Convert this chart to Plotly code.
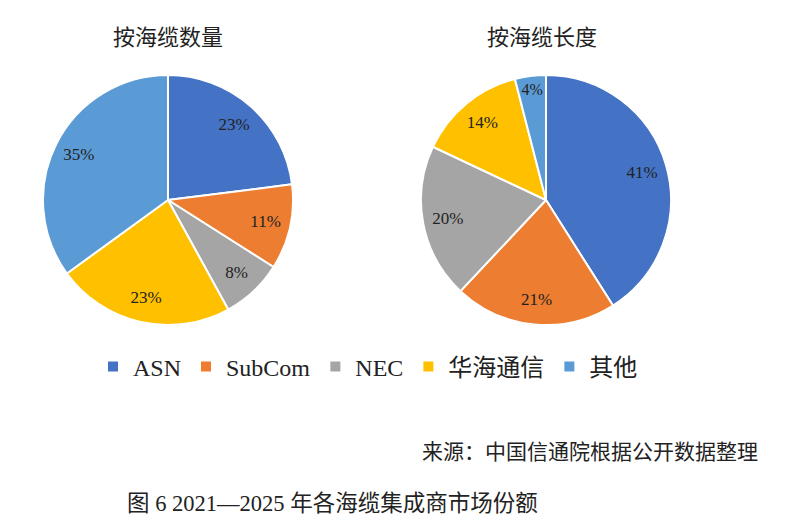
import plotly.graph_objects as go

# 集成商
labels = ["ASN", "SubCom", "NEC", "华海通信", "其他"]
colors = ["#4472C4", "#ED7D31", "#A5A5A5", "#FFC000", "#5B9BD5"]

# 按海缆数量 / 按海缆长度 (%)
by_count = [23, 11, 8, 23, 35]
by_length = [41, 21, 20, 14, 4]

FONT = "Liberation Serif, Noto Sans CJK SC, serif"
# the page body has an 8px margin, so px positions below are page px minus 8
W, H = 800, 532
doms = [dict(x=[35 / W, 285 / W], y=[1 - 317 / H, 1 - 67 / H]),
        dict(x=[413 / W, 663 / W], y=[1 - 317 / H, 1 - 67 / H])]

fig = go.Figure()

for i, vals in enumerate([by_count, by_length]):
    # the coloured pie
    fig.add_trace(go.Pie(
        labels=labels, values=vals, sort=False, direction="clockwise",
        marker=dict(colors=colors, line=dict(color="white", width=2)),
        textinfo="none", domain=doms[i],
        hoverinfo="label+percent", showlegend=(i == 0),
    ))
    # transparent ring on top, only to put the % labels out near the rim
    fig.add_trace(go.Pie(
        labels=labels, values=vals, sort=False, direction="clockwise", hole=0.6,
        marker=dict(colors=["rgba(0,0,0,0)"] * len(labels), line=dict(width=0)),
        texttemplate="%{value}%", textposition="inside", insidetextorientation="horizontal",
        textfont=dict(family=FONT, size=17, color="#222222"),
        domain=doms[i], hoverinfo="skip", showlegend=False,
    ))

notes = [
    dict(text="按海缆数量", x=160, y=30, size=22, xanchor="center"),
    dict(text="按海缆长度", x=534, y=30, size=22, xanchor="center"),
    dict(text="来源：中国信通院根据公开数据整理", x=752, y=444, size=21, xanchor="right"),
    dict(text="图 6 2021—2025 年各海缆集成商市场份额", x=117, y=495, size=22.5, xanchor="left"),
]
for n in notes:
    fig.add_annotation(
        text=n["text"], x=n["x"] / W, y=1 - n["y"] / H, xref="paper", yref="paper",
        xanchor=n["xanchor"], yanchor="middle", showarrow=False,
        font=dict(family=FONT, size=n["size"], color="#222222"),
    )

fig.update_layout(
    width=W, height=H,
    margin=dict(l=0, r=0, t=0, b=0),
    paper_bgcolor="white", plot_bgcolor="white",
    legend=dict(
        orientation="h", x=360 / W, y=1 - 359 / H, xanchor="center", yanchor="middle",
        font=dict(family=FONT, size=24, color="#222222"),
        itemwidth=30, traceorder="normal",
    ),
)

fig.write_html("out.html")
